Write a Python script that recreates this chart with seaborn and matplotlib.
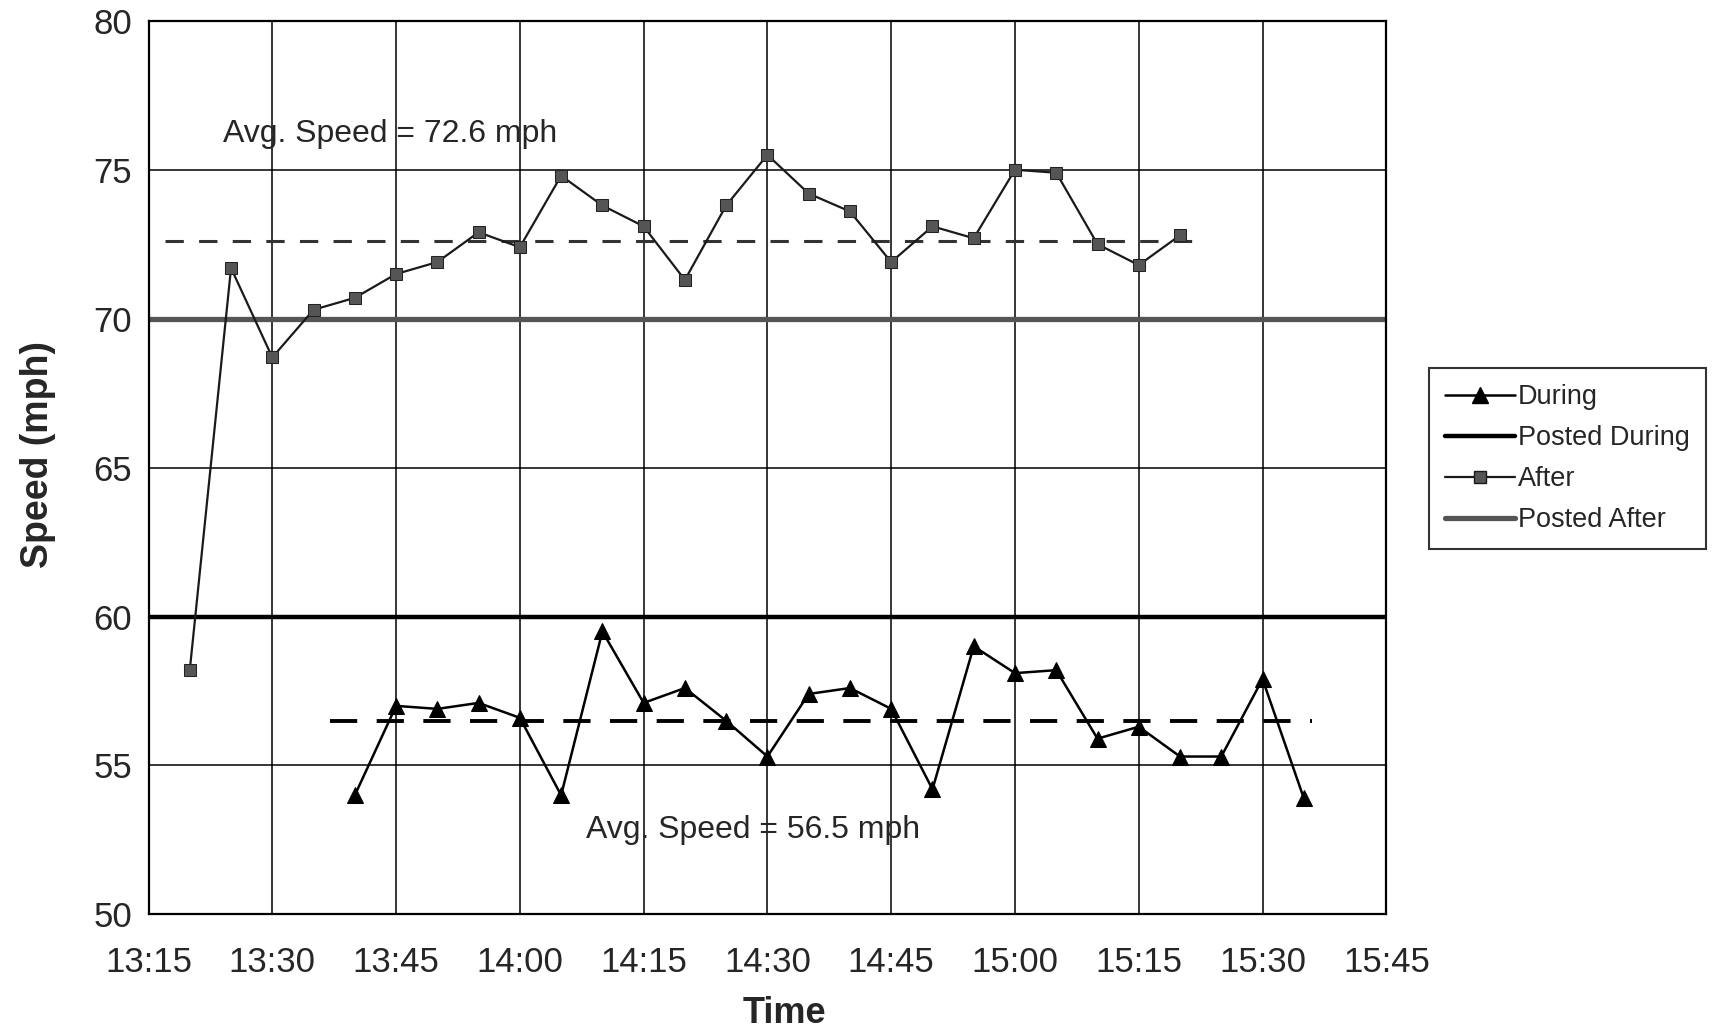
import matplotlib
matplotlib.use("Agg")
import matplotlib.pyplot as plt
import matplotlib.dates as mdates
from matplotlib.lines import Line2D
import pandas as pd
import seaborn as sns

# ---- data -------------------------------------------------------------
after_times = ["13:20", "13:25", "13:30", "13:35", "13:40", "13:45", "13:50",
               "13:55", "14:00", "14:05", "14:10", "14:15", "14:20", "14:25",
               "14:30", "14:35", "14:40", "14:45", "14:50", "14:55", "15:00",
               "15:05", "15:10", "15:15", "15:20"]
after_speed = [58.2, 71.7, 68.7, 70.3, 70.7, 71.5, 71.9, 72.9, 72.4, 74.8,
               73.8, 73.1, 71.3, 73.8, 75.5, 74.2, 73.6, 71.9, 73.1, 72.7,
               75.0, 74.9, 72.5, 71.8, 72.8]

during_times = ["13:40", "13:45", "13:50", "13:55", "14:00", "14:05", "14:10",
                "14:15", "14:20", "14:25", "14:30", "14:35", "14:40", "14:45",
                "14:50", "14:55", "15:00", "15:05", "15:10", "15:15", "15:20",
                "15:25", "15:30", "15:35"]
during_speed = [54.0, 57.0, 56.9, 57.1, 56.6, 54.0, 59.5, 57.1, 57.6, 56.5,
                55.3, 57.4, 57.6, 56.9, 54.2, 59.0, 58.1, 58.2, 55.9, 56.3,
                55.3, 55.3, 57.9, 53.9]

posted_during = 60
posted_after = 70

avg_after = 72.6
avg_after_span = ["13:17", "15:23"]
avg_during = 56.5
avg_during_span = ["13:37", "15:36"]

x_ticks = ["13:15", "13:30", "13:45", "14:00", "14:15", "14:30",
           "14:45", "15:00", "15:15", "15:30", "15:45"]
y_ticks = [50, 55, 60, 65, 70, 75, 80]


def to_dt(times):
    return pd.to_datetime(["2000-01-01 " + t for t in times])


df_after = pd.DataFrame({"Time": to_dt(after_times), "Speed": after_speed})
df_during = pd.DataFrame({"Time": to_dt(during_times), "Speed": during_speed})

# ---- style ------------------------------------------------------------
sns.set_style("white")
plt.rcParams["font.family"] = ["Liberation Sans", "DejaVu Sans"]

fig = plt.figure(figsize=(17.13, 10.31), dpi=100)
ax = fig.add_axes([0.0867, 0.1131, 0.7226, 0.8667])

# posted limits
ax.axhline(posted_during, color="black", lw=3.2, zorder=2)
ax.axhline(posted_after, color="#555555", lw=3.8, zorder=2)

# average lines
ax.plot(to_dt(avg_after_span), [avg_after, avg_after], color="#333333",
        lw=2.2, dashes=(6, 5), zorder=3)
ax.plot(to_dt(avg_during_span), [avg_during, avg_during], color="black",
        lw=2.8, dashes=(7, 5), zorder=3)

# measured speeds
sns.lineplot(data=df_during, x="Time", y="Speed", ax=ax, color="black",
             lw=1.8, marker="^", markersize=11, markeredgecolor="black",
             zorder=4)
sns.lineplot(data=df_after, x="Time", y="Speed", ax=ax, color="#1a1a1a",
             lw=1.6, marker="s", markersize=8, markerfacecolor="#555555",
             markeredgecolor="#222222", zorder=4)

# axes
xt = to_dt(x_ticks)
ax.set_xlim(xt[0], xt[-1])
ax.set_ylim(y_ticks[0], y_ticks[-1])
ax.set_xticks(xt)
ax.xaxis.set_major_formatter(mdates.DateFormatter("%H:%M"))
ax.set_yticks(y_ticks)
ax.grid(True, color="black", lw=1.1)
ax.set_axisbelow(True)
for s in ax.spines.values():
    s.set_color("black")
    s.set_linewidth(1.6)
ax.tick_params(axis="both", labelsize=25, length=5, width=1.2,
               color="black", direction="out")
ax.tick_params(axis="x", pad=18)
ax.tick_params(axis="y", pad=7)
ax.set_xlabel("Time", fontsize=26, fontweight="bold")
ax.set_ylabel("Speed (mph)", fontsize=27, fontweight="bold")
ax.xaxis.set_label_coords(0.514, -0.091)
ax.yaxis.set_label_coords(-0.075, 0.515)

# annotations
ax.text(to_dt(["13:24"])[0], 76.2, f"Avg. Speed = {avg_after} mph",
        fontsize=23, va="center", ha="left")
ax.text(to_dt(["14:08"])[0], 52.85, f"Avg. Speed = {avg_during} mph",
        fontsize=23, va="center", ha="left")

# legend
handles = [
    Line2D([], [], color="black", lw=1.8, marker="^", markersize=11),
    Line2D([], [], color="black", lw=3.2),
    Line2D([], [], color="#1a1a1a", lw=1.6, marker="s", markersize=8,
           markerfacecolor="#555555"),
    Line2D([], [], color="#555555", lw=3.8),
]
labels = ["During", "Posted During", "After", "Posted After"]
leg = fig.legend(handles, labels, loc="center left",
                 bbox_to_anchor=(0.834, 0.555), fontsize=19.5,
                 frameon=True, fancybox=False, edgecolor="black",
                 handlelength=2.6, handletextpad=0.1, labelspacing=0.55,
                 borderpad=0.6, borderaxespad=0)
leg.get_frame().set_linewidth(1.5)

fig.savefig("out.png", dpi=100, facecolor="white")
